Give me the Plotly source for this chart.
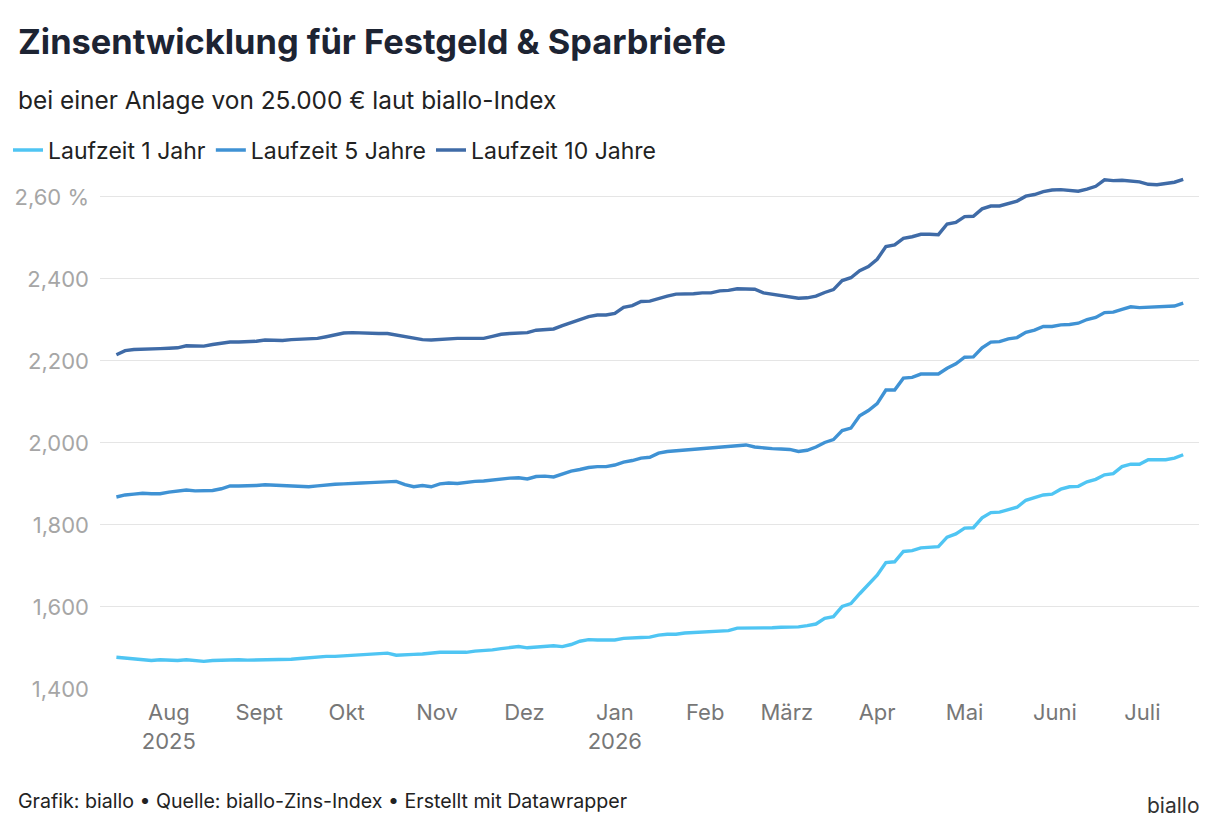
import plotly.graph_objects as go
import pandas as pd

# ---------------- data ----------------
dates = pd.date_range("2025-07-14", "2026-07-15", freq="3D")

rate_1y = [
    1.477, 1.475, 1.473, 1.471, 1.469, 1.471, 1.469, 1.469, 1.471, 1.469,
    1.467, 1.469, 1.470, 1.472, 1.471, 1.470, 1.470, 1.472, 1.472, 1.472,
    1.472, 1.474, 1.476, 1.478, 1.479, 1.479, 1.480, 1.481, 1.483, 1.484,
    1.485, 1.487, 1.482, 1.482, 1.484, 1.485, 1.488, 1.489, 1.489, 1.489,
    1.489, 1.492, 1.493, 1.495, 1.498, 1.500, 1.503, 1.500, 1.501, 1.504,
    1.505, 1.503, 1.508, 1.516, 1.520, 1.519, 1.519, 1.519, 1.523, 1.525,
    1.525, 1.526, 1.531, 1.533, 1.533, 1.536, 1.537, 1.537, 1.539, 1.540,
    1.542, 1.548, 1.548, 1.547, 1.547, 1.549, 1.550, 1.550, 1.551, 1.554,
    1.558, 1.572, 1.576, 1.601, 1.608, 1.632, 1.655, 1.677, 1.708, 1.710,
    1.735, 1.737, 1.744, 1.746, 1.747, 1.770, 1.778, 1.792, 1.793, 1.817,
    1.830, 1.831, 1.837, 1.843, 1.860, 1.866, 1.873, 1.875, 1.887, 1.893,
    1.894, 1.905, 1.911, 1.922, 1.925, 1.942, 1.948, 1.948, 1.959, 1.959,
    1.959, 1.963, 1.971,
]

rate_5y = [
    1.868, 1.873, 1.875, 1.877, 1.876, 1.876, 1.880, 1.883, 1.885, 1.883,
    1.883, 1.884, 1.888, 1.895, 1.895, 1.895, 1.896, 1.898, 1.897, 1.895,
    1.894, 1.892, 1.893, 1.895, 1.898, 1.899, 1.900, 1.902, 1.902, 1.903,
    1.904, 1.907, 1.906, 1.898, 1.893, 1.896, 1.893, 1.900, 1.902, 1.901,
    1.904, 1.906, 1.907, 1.910, 1.912, 1.914, 1.915, 1.912, 1.918, 1.919,
    1.917, 1.925, 1.931, 1.935, 1.940, 1.942, 1.942, 1.946, 1.953, 1.957,
    1.963, 1.965, 1.975, 1.979, 1.981, 1.982, 1.984, 1.986, 1.988, 1.991,
    1.992, 1.993, 1.995, 1.990, 1.987, 1.986, 1.985, 1.984, 1.979, 1.982,
    1.990, 2.001, 2.008, 2.030, 2.036, 2.066, 2.079, 2.096, 2.129, 2.129,
    2.158, 2.160, 2.168, 2.168, 2.168, 2.182, 2.193, 2.209, 2.210, 2.232,
    2.246, 2.247, 2.254, 2.257, 2.270, 2.275, 2.284, 2.284, 2.288, 2.289,
    2.292, 2.301, 2.306, 2.318, 2.319, 2.326, 2.332, 2.330, 2.331, 2.332,
    2.333, 2.334, 2.341,
]

rate_10y = [
    2.215, 2.225, 2.228, 2.228, 2.229, 2.230, 2.231, 2.232, 2.237, 2.236,
    2.236, 2.240, 2.243, 2.246, 2.246, 2.246, 2.248, 2.251, 2.250, 2.250,
    2.252, 2.253, 2.254, 2.255, 2.259, 2.264, 2.268, 2.269, 2.268, 2.266,
    2.267, 2.267, 2.263, 2.259, 2.254, 2.252, 2.251, 2.253, 2.255, 2.255,
    2.255, 2.255, 2.255, 2.260, 2.265, 2.267, 2.268, 2.269, 2.275, 2.276,
    2.278, 2.286, 2.294, 2.302, 2.308, 2.312, 2.312, 2.316, 2.331, 2.335,
    2.345, 2.346, 2.353, 2.358, 2.363, 2.363, 2.364, 2.366, 2.366, 2.371,
    2.372, 2.376, 2.376, 2.375, 2.366, 2.363, 2.361, 2.356, 2.353, 2.354,
    2.358, 2.367, 2.374, 2.396, 2.403, 2.420, 2.430, 2.448, 2.479, 2.483,
    2.499, 2.503, 2.509, 2.509, 2.508, 2.534, 2.538, 2.552, 2.553, 2.571,
    2.578, 2.578, 2.583, 2.590, 2.602, 2.606, 2.613, 2.617, 2.618, 2.615,
    2.614, 2.619, 2.626, 2.642, 2.640, 2.641, 2.640, 2.637, 2.631, 2.630,
    2.633, 2.636, 2.643,
]

series_names = ["Laufzeit 1 Jahr", "Laufzeit 5 Jahre", "Laufzeit 10 Jahre"]
series_values = [rate_1y, rate_5y, rate_10y]
series_colors = ["#4fc5f3", "#3f92d4", "#3f6ba7"]

y_tickvals = [1.4, 1.6, 1.8, 2.0, 2.2, 2.4, 2.6]
y_ticktext = ["1,400", "1,600", "1,800", "2,000", "2,200", "2,400", "2,60 %"]

x_tickvals = ["2025-08-01", "2025-09-01", "2025-10-01", "2025-11-01", "2025-12-01",
              "2026-01-01", "2026-02-01", "2026-03-01", "2026-04-01", "2026-05-01",
              "2026-06-01", "2026-07-01"]
x_ticktext = ["Aug<br>2025", "Sept", "Okt", "Nov", "Dez", "Jan<br>2026", "Feb",
              "März", "Apr", "Mai", "Juni", "Juli"]

title_text = "Zinsentwicklung für Festgeld & Sparbriefe"
subtitle_text = "bei einer Anlage von 25.000 € laut biallo-Index"
footer_text = "Grafik: biallo • Quelle: biallo-Zins-Index • Erstellt mit Datawrapper"
brand_text = "biallo"

# ---------------- layout geometry (pixels) ----------------
W, H = 1216, 831
L, R, T, B = 100, 1199, 172, 689
PX_PER_UNIT = 410.0
y_range = [1.3995, 1.4 + (B - T) / PX_PER_UNIT]
x_range = ["2025-07-08 09:00", "2026-07-20 10:00"]


def px_x(px):
    return (px - L) / (R - L)


def px_y(py):
    return (B - py) / (B - T)


FONT = "Inter, Roboto, sans-serif"

fig = go.Figure()
for name, vals, col in zip(series_names, series_values, series_colors):
    fig.add_trace(go.Scatter(
        x=dates, y=vals, name=name, mode="lines",
        line=dict(color=col, width=3.4),
        hoverinfo="skip",
    ))

fig.update_layout(
    width=W, height=H,
    margin=dict(l=L, r=W - R, t=T, b=H - B, pad=0, autoexpand=False),
    paper_bgcolor="white", plot_bgcolor="white",
    font=dict(family=FONT, color="#222222"),
    showlegend=True,
    legend=dict(
        orientation="h", xref="container", yref="container",
        x=8 / W, y=1 - 150 / H, xanchor="left", yanchor="middle",
        font=dict(size=23, color="#222222", family=FONT),
        itemwidth=30, bgcolor="rgba(0,0,0,0)", traceorder="normal",
    ),
    xaxis=dict(
        type="date", range=x_range, tickvals=x_tickvals, ticktext=x_ticktext,
        showgrid=False, zeroline=False, showline=False, ticks="",
        tickfont=dict(size=22, color="#777777", family=FONT),
        ticklabelstandoff=8,
    ),
    yaxis=dict(
        range=y_range, tickvals=y_tickvals, ticktext=y_ticktext,
        showgrid=True, gridcolor="#e5e5e5", gridwidth=1,
        zeroline=False, showline=False, ticks="",
        tickfont=dict(size=22, color="#a6a6a6", family=FONT),
        ticklabelstandoff=10,
    ),
    annotations=[
        dict(text=title_text, x=px_x(16), y=px_y(42), xref="paper", yref="paper",
             xanchor="left", yanchor="middle", showarrow=False,
             font=dict(size=34.4, color="#1d2433", family=FONT, weight=700)),
        dict(text=subtitle_text, x=px_x(16), y=px_y(100), xref="paper", yref="paper",
             xanchor="left", yanchor="middle", showarrow=False,
             font=dict(size=24.4, color="#222222", family=FONT)),
        dict(text=footer_text, x=px_x(16), y=px_y(801), xref="paper", yref="paper",
             xanchor="left", yanchor="middle", showarrow=False,
             font=dict(size=19.6, color="#222222", family=FONT)),
        dict(text=brand_text, x=px_x(1202), y=px_y(805), xref="paper", yref="paper",
             xanchor="right", yanchor="middle", showarrow=False,
             font=dict(size=21, color="#333333", family=FONT)),
    ],
)

fig.write_html("out.html")
